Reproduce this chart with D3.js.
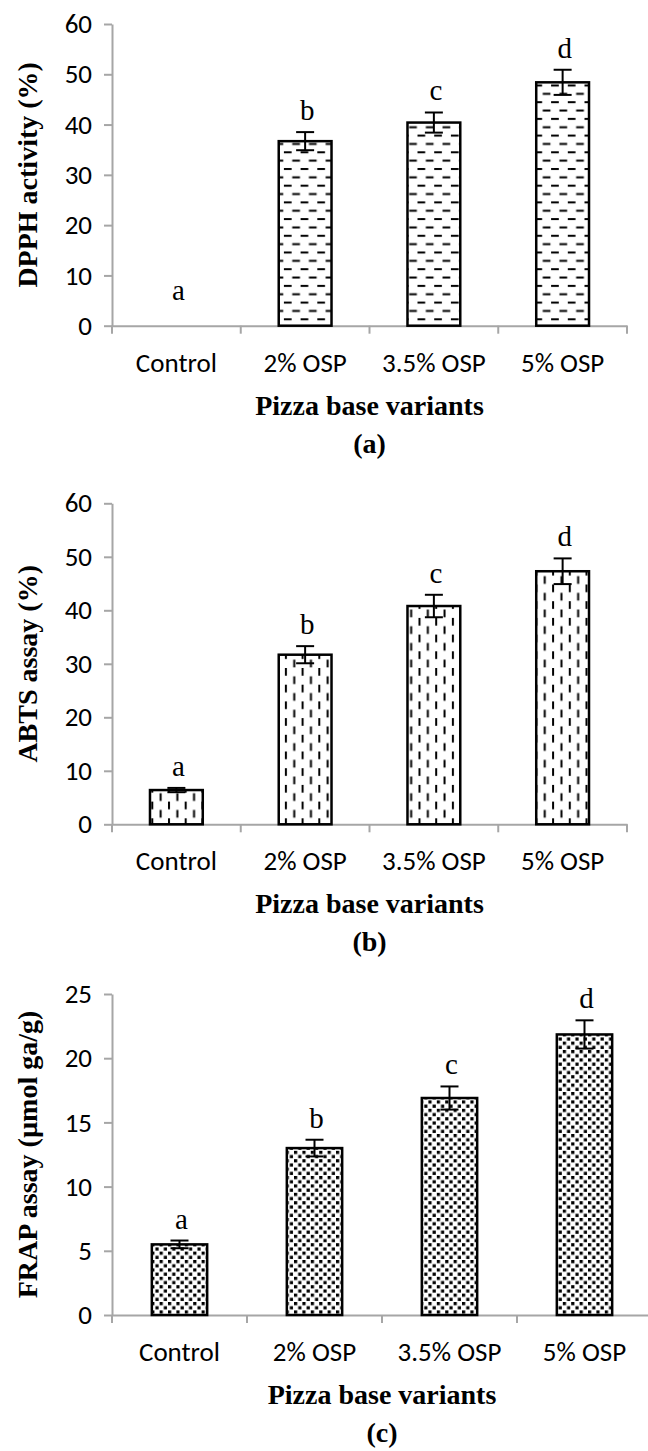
<!DOCTYPE html>
<html>
<head>
<meta charset="utf-8">
<script src="https://cdn.jsdelivr.net/npm/d3@7"></script>
<style>
  body { margin: 0; background: #fff; }
  svg { display: block; }
</style>
</head>
<body>
<svg id="chart" width="648" height="1451"></svg>
<script>
// values
const categories = ["Control", "2% OSP", "3.5% OSP", "5% OSP"];
const letters = ["a", "b", "c", "d"];

const dpphValues = [0, 36.7, 40.4, 48.4];
const dpphErrors = [0, 1.8, 2.0, 2.5];
const dpphTicks = [0, 10, 20, 30, 40, 50, 60];

const abtsValues = [6.4, 31.7, 40.8, 47.3];
const abtsErrors = [0.4, 1.6, 2.1, 2.4];
const abtsTicks = [0, 10, 20, 30, 40, 50, 60];

const frapValues = [5.5, 13.0, 16.9, 21.85];
const frapErrors = [0.3, 0.65, 0.9, 1.1];
const frapTicks = [0, 5, 10, 15, 20, 25];

const svg = d3.select("#chart");
const axisGrey = "#a6a6a6";
const sansFont = "Carlito, Lato, sans-serif";
const serifFont = "'Liberation Serif', 'Times New Roman', serif";

// fill patterns (excel style)
const defs = svg.append("defs");

let p = defs.append("pattern").attr("id", "hdash")
  .attr("patternUnits", "userSpaceOnUse").attr("width", 16.7).attr("height", 16.7);
p.append("rect").attr("width", 16.7).attr("height", 16.7).attr("fill", "#fff");
p.append("rect").attr("x", 0).attr("y", 1).attr("width", 7.7).attr("height", 2).attr("fill", "#000");
p.append("rect").attr("x", 8.35).attr("y", 9.35).attr("width", 7.7).attr("height", 2).attr("fill", "#000");

p = defs.append("pattern").attr("id", "vdash")
  .attr("patternUnits", "userSpaceOnUse").attr("width", 16.7).attr("height", 16.7);
p.append("rect").attr("width", 16.7).attr("height", 16.7).attr("fill", "#fff");
p.append("rect").attr("x", 1).attr("y", 0).attr("width", 2).attr("height", 7.7).attr("fill", "#000");
p.append("rect").attr("x", 9.35).attr("y", 8.35).attr("width", 2).attr("height", 7.7).attr("fill", "#000");

p = defs.append("pattern").attr("id", "dots")
  .attr("patternUnits", "userSpaceOnUse").attr("width", 8.4).attr("height", 8.4);
p.append("rect").attr("width", 8.4).attr("height", 8.4).attr("fill", "#fff");
p.append("rect").attr("x", 0).attr("y", 0).attr("width", 3.2).attr("height", 3.2).attr("fill", "#000");
p.append("rect").attr("x", 4.2).attr("y", 4.2).attr("width", 3.2).attr("height", 3.2).attr("fill", "#000");

function drawPanel(opt) {
  const x = d3.scaleBand().domain(categories).range([opt.left, opt.right]).paddingInner(0).paddingOuter(0);
  const y = d3.scaleLinear().domain([0, d3.max(opt.ticks)]).range([opt.bottom, opt.top]);
  const barW = x.bandwidth() * 0.41;
  const rows = categories.map((c, i) => ({ cat: c, v: opt.values[i], e: opt.errors[i], l: letters[i] }));

  const g = svg.append("g");

  // y axis
  const ya = g.append("g")
    .attr("transform", `translate(${opt.left},0)`)
    .call(d3.axisLeft(y).tickValues(opt.ticks).tickSize(8).tickSizeOuter(0).tickPadding(12));
  ya.select(".domain").attr("stroke", axisGrey).attr("stroke-width", 2);
  ya.selectAll(".tick line").attr("stroke", axisGrey).attr("stroke-width", 2);
  ya.selectAll("text").attr("font-family", sansFont).attr("font-size", 27).attr("fill", "#000");

  // x axis, ticks sit between the categories
  const xa = g.append("g")
    .attr("transform", `translate(0,${opt.bottom})`)
    .call(d3.axisBottom(x).tickSize(0).tickSizeOuter(0));
  xa.select(".domain").attr("stroke", axisGrey).attr("stroke-width", 2);
  xa.selectAll("text")
    .attr("y", 46).attr("dy", null)
    .attr("font-family", sansFont).attr("font-size", 27).attr("fill", "#000");
  xa.selectAll(".bound")
    .data(d3.range(categories.length + 1))
    .join("line")
      .attr("class", "bound")
      .attr("x1", i => opt.left + i * x.step())
      .attr("x2", i => opt.left + i * x.step())
      .attr("y1", 0).attr("y2", 8)
      .attr("stroke", axisGrey).attr("stroke-width", 2);

  // bars (a zero bar is not drawn)
  g.selectAll(".bar")
    .data(rows.filter(d => d.v > 0))
    .join("rect")
      .attr("class", "bar")
      .attr("x", d => x(d.cat) + (x.bandwidth() - barW) / 2)
      .attr("y", d => y(d.v))
      .attr("width", barW)
      .attr("height", d => y(0) - y(d.v))
      .attr("fill", `url(#${opt.pattern})`)
      .attr("stroke", "#000")
      .attr("stroke-width", 2.5);

  // error bars
  const cx = d => x(d.cat) + x.bandwidth() / 2;
  const eb = g.selectAll(".err")
    .data(rows.filter(d => d.e > 0))
    .join("g").attr("class", "err")
      .attr("stroke", "#000").attr("stroke-width", 2);
  eb.append("line")
    .attr("x1", cx).attr("x2", cx)
    .attr("y1", d => y(d.v - d.e)).attr("y2", d => y(d.v + d.e));
  eb.append("line")
    .attr("x1", d => cx(d) - 9).attr("x2", d => cx(d) + 9)
    .attr("y1", d => y(d.v + d.e)).attr("y2", d => y(d.v + d.e));
  eb.append("line")
    .attr("x1", d => cx(d) - 9).attr("x2", d => cx(d) + 9)
    .attr("y1", d => y(d.v - d.e)).attr("y2", d => y(d.v - d.e));

  // significance letters
  g.selectAll(".sig")
    .data(rows)
    .join("text")
      .attr("class", "sig")
      .attr("x", d => cx(d) + 2)
      .attr("y", d => y(d.v + d.e) - (d.v > 0 ? 12 : 26))
      .attr("text-anchor", "middle")
      .attr("font-family", serifFont)
      .attr("font-size", 29)
      .text(d => d.l);

  // titles
  const mid = (opt.left + opt.right) / 2;
  g.append("text")
    .attr("transform", `translate(37,${(opt.top + opt.bottom) / 2}) rotate(-90)`)
    .attr("text-anchor", "middle")
    .attr("font-family", serifFont).attr("font-weight", "bold").attr("font-size", 28)
    .text(opt.yTitle);
  g.append("text")
    .attr("x", mid).attr("y", opt.bottom + 89)
    .attr("text-anchor", "middle")
    .attr("font-family", serifFont).attr("font-weight", "bold").attr("font-size", 28)
    .text("Pizza base variants");
  g.append("text")
    .attr("x", mid).attr("y", opt.bottom + 127)
    .attr("text-anchor", "middle")
    .attr("font-family", serifFont).attr("font-weight", "bold").attr("font-size", 28)
    .text(opt.tag);
}

drawPanel({ values: dpphValues, errors: dpphErrors, ticks: dpphTicks, pattern: "hdash",
  yTitle: "DPPH activity (%)", tag: "(a)", left: 112, right: 627, top: 24, bottom: 325.7 });
drawPanel({ values: abtsValues, errors: abtsErrors, ticks: abtsTicks, pattern: "vdash",
  yTitle: "ABTS assay (%)", tag: "(b)", left: 112, right: 627, top: 503.3, bottom: 824.3 });
drawPanel({ values: frapValues, errors: frapErrors, ticks: frapTicks, pattern: "dots",
  yTitle: "FRAP assay (µmol ga/g)", tag: "(c)", left: 112, right: 652, top: 994, bottom: 1315 });
</script>
</body>
</html>
